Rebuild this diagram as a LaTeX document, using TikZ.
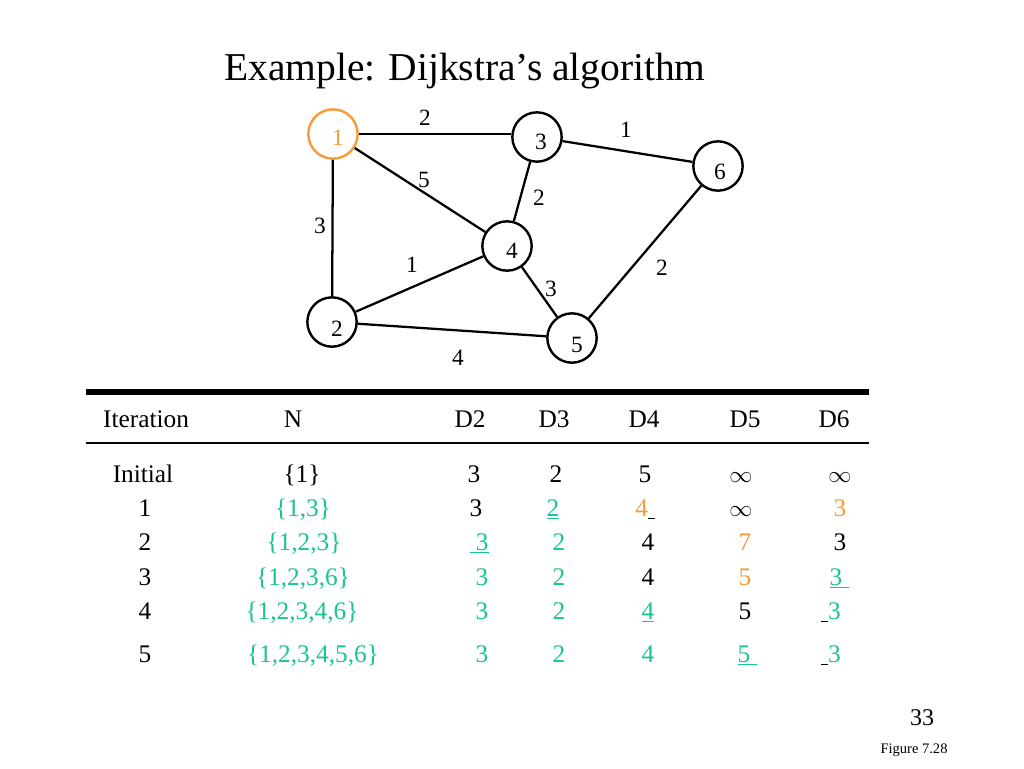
\documentclass[tikz,border=0pt]{standalone}
\usepackage{fontspec}
\setmainfont{Liberation Serif}
\definecolor{orng}{RGB}{245,155,55}
\definecolor{grn}{RGB}{25,195,150}
\newcommand{\blk}{\textcolor{black}{\rule[-2pt]{5pt}{0.8pt}}}
\begin{document}
\begin{tikzpicture}[x=0.75pt,y=-0.75pt,
  vtx/.style={circle,draw,line width=1.8pt,minimum size=37pt,inner sep=0pt},
  edge/.style={line width=1.7pt},
  wt/.style={font=\fontsize{17.5}{20}\selectfont,inner sep=0pt},
  cell/.style={anchor=base,font=\fontsize{19}{22}\selectfont,inner sep=0pt},
  gc/.style={cell,text=grn},
  oc/.style={cell,text=orng}]
\useasboundingbox (0,0) rectangle (1024,768);
\fill[white] (0,0) rectangle (1024,768);
\node[anchor=base,font=\fontsize{29.6}{34}\selectfont,inner sep=0pt] (title) at (465,80) {Example: Dijkstra’s algorithm};
% vertices
\node[vtx,draw=orng] (n1) at (333,134) {};
\node[vtx] (n3) at (537,137) {};
\node[vtx] (n6) at (718,166) {};
\node[vtx] (n4) at (507,246) {};
\node[vtx] (n2) at (332,322) {};
\node[vtx] (n5) at (572,338) {};
\node[wt,text=orng] (t1) at (338,138) {1};
\node[wt] (t3) at (541,142) {3};
\node[wt] (t6) at (720,172) {6};
\node[wt] (t4) at (512,251) {4};
\node[wt] (t2) at (337,329) {2};
\node[wt] (t5) at (577,345) {5};
% edges
\draw[edge] (n1.east) -- (n3.west |- n1.east);
\draw[edge] (n3) -- (n6);
\draw[edge] (n1) -- (n4);
\draw[edge] (n3) -- (n4);
\draw[edge] (n1) -- (n2);
\draw[edge] (n2) -- (n4);
\draw[edge] (n6) -- (n5);
\draw[edge] (n4) -- (n5);
\draw[edge] (n2) -- (n5);
% weights
\node[wt] (w13) at (425,118) {2};
\node[wt] (w36) at (626,130) {1};
\node[wt] (w14) at (424,180) {5};
\node[wt] (w34) at (539,198) {2};
\node[wt] (w12) at (320,226) {3};
\node[wt] (w24) at (412,265) {1};
\node[wt] (w56) at (662,268) {2};
\node[wt] (w45) at (551,289) {3};
\node[wt] (w25) at (458,358) {4};
% table rules
\coordinate (tl) at (86,392); \coordinate (tr) at (869,392);
\coordinate (ml) at (86,443); \coordinate (mr) at (869,443);
\draw[line width=4.5pt] (tl) -- (tr);
\draw[line width=0.9pt] (ml) -- (mr);
% header
\node[cell] (hI) at (146,427) {Iteration};
\node[cell] (hN) at (293,427) {N};
\node[cell] (h2) at (470,427) {D2};
\node[cell] (h3) at (554,427) {D3};
\node[cell] (h4) at (644,427) {D4};
\node[cell] (h5) at (745,427) {D5};
\node[cell] (h6) at (834,427) {D6};
% initial
\node[cell] (r0i) at (143,482) {Initial};
\node[cell] (r0n) at (302,482) {\{1\}};
\node[cell] (r02) at (474,482) {3};
\node[cell] (r03) at (556,482) {2};
\node[cell] (r04) at (645,482) {5};
\node[cell] (r05) at (741,482) {$\infty$};
\node[cell] (r06) at (840,482) {$\infty$};
% row 1
\node[cell] (r1i) at (145,516) {1};
\node[gc] (r1n) at (303,516) {\{1,3\}};
\node[cell] (r12) at (476,516) {3};
\node[gc] (r13) at (553,516) {\underline{2}};
\node[cell] (r14) at (645,516) {\textcolor{orng}{4}\blk};
\node[cell] (r15) at (741,516) {$\infty$};
\node[oc] (r16) at (840,516) {3};
% row 2
\node[cell] (r2i) at (145,550) {2};
\node[gc] (r2n) at (304,550) {\{1,2,3\}};
\node[gc] (r22) at (479,550) {\underline{\ 3}};
\node[gc] (r23) at (559,550) {2};
\node[cell] (r24) at (648,550) {4};
\node[oc] (r25) at (745,550) {7};
\node[cell] (r26) at (840,550) {3};
% row 3
\node[cell] (r3i) at (145,585) {3};
\node[gc] (r3n) at (303,585) {\{1,2,3,6\}};
\node[gc] (r32) at (482,585) {3};
\node[gc] (r33) at (559,585) {2};
\node[cell] (r34) at (648,585) {4};
\node[oc] (r35) at (745,585) {5};
\node[gc] (r36) at (839,585) {\underline{3\ }};
% row 4
\node[cell] (r4i) at (145,619) {4};
\node[gc] (r4n) at (302,619) {\{1,2,3,4,6\}};
\node[gc] (r42) at (482,619) {3};
\node[gc] (r43) at (559,619) {2};
\node[gc] (r44) at (648,619) {\underline{4}};
\node[cell] (r45) at (745,619) {5};
\node[gc] (r46) at (831,619) {\blk 3};
% row 5
\node[cell] (r5i) at (145,662) {5};
\node[gc] (r5n) at (313,662) {\{1,2,3,4,5,6\}};
\node[gc] (r52) at (482,662) {3};
\node[gc] (r53) at (559,662) {2};
\node[gc] (r54) at (648,662) {4};
\node[gc] (r55) at (747,662) {\underline{5\ }};
\node[gc] (r56) at (831,662) {\blk 3};
% footer
\node[anchor=base,font=\fontsize{18}{20}\selectfont,inner sep=0pt] (pg) at (922,725) {33};
\node[anchor=base,font=\fontsize{10.9}{12}\selectfont,inner sep=0pt] (fig) at (914,753) {Figure 7.28};
\end{tikzpicture}
\end{document}
